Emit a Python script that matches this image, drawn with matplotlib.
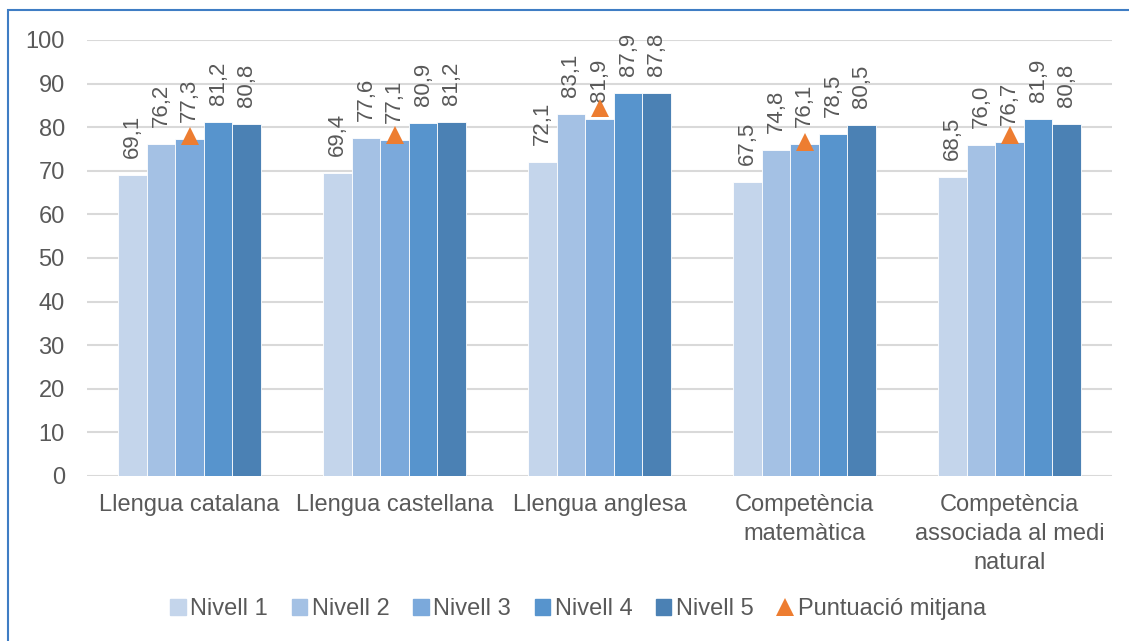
import numpy as np
import matplotlib
matplotlib.use("Agg")
import matplotlib.pyplot as plt
from matplotlib.patches import Rectangle
from matplotlib.lines import Line2D

plt.rcParams['font.family'] = ['Liberation Sans', 'DejaVu Sans']

categories = ["Llengua catalana", "Llengua castellana", "Llengua anglesa",
              "Competència\nmatemàtica", "Competència\nassociada al medi\nnatural"]
series_names = ["Nivell 1", "Nivell 2", "Nivell 3", "Nivell 4", "Nivell 5"]
nivell1 = [69.1, 69.4, 72.1, 67.5, 68.5]
nivell2 = [76.2, 77.6, 83.1, 74.8, 76.0]
nivell3 = [77.3, 77.1, 81.9, 76.1, 76.7]
nivell4 = [81.2, 80.9, 87.9, 78.5, 81.9]
nivell5 = [80.8, 81.2, 87.8, 80.5, 80.8]
mitjana = [78.0, 78.3, 84.4, 76.5, 78.3]
yticks = [0, 10, 20, 30, 40, 50, 60, 70, 80, 90, 100]

colors = ["#C4D5EB", "#A4C1E4", "#7BA9DB", "#5794CD", "#4B81B4"]
txt = "#595959"

fig = plt.figure(figsize=(11.29, 6.41), dpi=100)
ax = fig.add_axes([87 / 1129, (641 - 476) / 641, (1112 - 87) / 1129, 436 / 641])

x = np.arange(len(categories))
w = 0.1395
series = [nivell1, nivell2, nivell3, nivell4, nivell5]
for i, vals in enumerate(series):
    pos = x + (i - 2) * w
    ax.bar(pos, vals, width=w, color=colors[i], edgecolor="white", linewidth=0.6,
           label=series_names[i], zorder=2)
    for px, v in zip(pos, vals):
        ax.text(px, v + 3.9, f"{v:.1f}".replace(".", ","), rotation=90,
                ha="center", va="bottom", fontsize=16, color=txt, zorder=4)

ax.plot(x, mitjana, linestyle="none", marker="^", markersize=13, color="#ED7D31",
        markeredgewidth=0, zorder=5)

ax.set_xlim(-0.5, len(categories) - 0.5)
ax.set_ylim(0, 100)
ax.set_yticks(yticks)
ax.set_xticks(x)
ax.set_xticklabels(categories, linespacing=1.42)
ax.tick_params(axis="both", length=0, labelsize=17, colors=txt)
ax.tick_params(axis="x", pad=13)
ax.tick_params(axis="y", pad=16)
ax.yaxis.grid(True, color="#D9D9D9", linewidth=1.5, zorder=0)
ax.set_axisbelow(True)
for s in ax.spines.values():
    s.set_visible(False)

handles = [plt.Rectangle((0, 0), 1, 1, color=c) for c in colors]
handles.append(Line2D([], [], linestyle="none", marker="^", markersize=13,
                      color="#ED7D31", markeredgewidth=0))
labels = series_names + ["Puntuació mitjana"]
fig.legend(handles, labels, loc="center", bbox_to_anchor=(578 / 1129, (641 - 609) / 641),
           ncol=6, frameon=False, fontsize=17, labelcolor=txt,
           handlelength=0.65, handleheight=0.65, handletextpad=0.2, columnspacing=1.0)

fig.patches.append(Rectangle((8 / 1129, -0.1), 2, (641 - 10) / 641 + 0.1,
                             transform=fig.transFigure, fill=False,
                             edgecolor="#3F7DC4", linewidth=1.5))

fig.savefig("out.png", dpi=100)
